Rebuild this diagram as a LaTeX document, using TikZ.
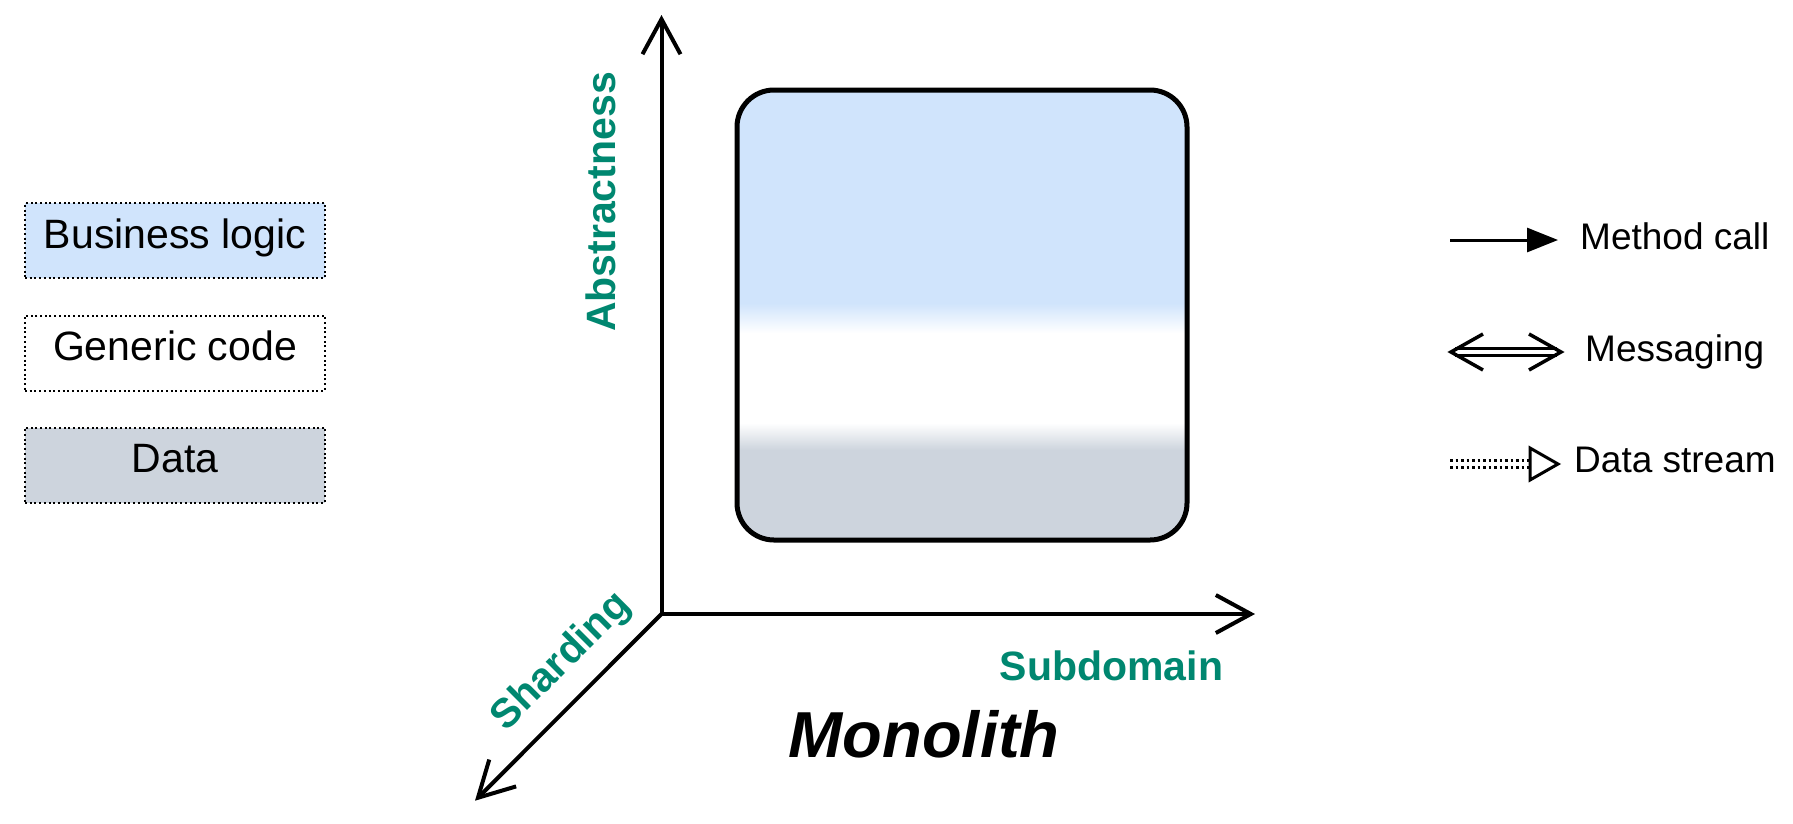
\documentclass[tikz,border=0pt]{standalone}
\usepackage{fontspec}
\setmainfont{Liberation Sans}
\usetikzlibrary{arrows.meta}
\definecolor{bluec}{RGB}{208,228,252}
\definecolor{grayc}{RGB}{205,212,221}
\definecolor{tealc}{RGB}{0,135,112}
\pgfdeclareverticalshading{boxshade}{100bp}{color(0bp)=(grayc); color(35bp)=(grayc); color(38bp)=(white); color(48bp)=(white); color(51.3bp)=(bluec); color(100bp)=(bluec)}
\tikzset{barbtip/.tip={Straight Barb[length=35pt,width=38pt]}}
\begin{document}
\begin{tikzpicture}[x=1pt,y=-1pt,
  legbox/.style={draw, line width=2pt, dash pattern=on 2pt off 2.7pt, minimum width=300pt, minimum height=75pt, inner sep=0pt, text height=30pt, text depth=15pt, font=\fontsize{41}{48}\selectfont},
  legtext/.style={anchor=base west, inner sep=0pt, font=\fontsize{37}{44}\selectfont},
  axlabel/.style={text=tealc, inner sep=0pt, font=\fontsize{41}{48}\selectfont\bfseries},
]
\useasboundingbox (0,0) rectangle (1793,823);

% left legend
\node[legbox, fill=bluec] (bl) at (175,240.5) {Business logic};
\node[legbox, fill=white] (gc) at (175,353) {Generic code};
\node[legbox, fill=grayc] (dt) at (175,465) {Data};

% central box
\node[draw, line width=5pt, rounded corners=37pt, minimum width=450pt, minimum height=450pt, shade, shading=boxshade] (box) at (962,315) {};

% axes
\coordinate (O) at (661.5,614);
\coordinate (ytop) at (661.5,15);
\coordinate (xtip) at (1255,614);
\coordinate (ztip) at (475,800.7);
\draw[line width=4pt, barbtip-barbtip] (ytop) -- (O) -- (xtip);
\draw[line width=4pt, -barbtip] (O) -- (ztip);

\node[axlabel, rotate=90] (abs) at (600.5,202) {Abstractness};
\node[axlabel] (sub) at (1111.5,666) {Subdomain};
\node[axlabel, rotate=45] (shard) at (562,662) {Sharding};
\node[inner sep=0pt, font=\fontsize{65}{72}\selectfont\bfseries\itshape] (mono) at (924,734) {Monolith};

% right legend
\coordinate (mc1) at (1450,240);
\coordinate (mc2) at (1558,240);
\draw[line width=3pt, -{Triangle[length=31pt,width=24pt]}] (mc1) -- (mc2);
\node[legtext] (mct) at (1580,249.3) {Method call};

\coordinate (ms1) at (1451,352);
\coordinate (ms2) at (1561,352);
\draw[line width=3.3pt, double distance=3.5pt, shorten <=4pt, shorten >=4pt] (ms1) -- (ms2);
\draw[line width=3.5pt] (ms1) ++(32,-18) -- (ms1) -- ++(32,18);
\draw[line width=3.5pt] (ms2) ++(-32,-18) -- (ms2) -- ++(-32,18);
\node[legtext] (mst) at (1585,361.7) {Messaging};

\coordinate (ds1) at (1450,464);
\coordinate (ds2) at (1530,464);
\coordinate (dsT) at (1558,464);
\draw[line width=2.5pt, dash pattern=on 2.5pt off 3pt] ([yshift=3.3pt]ds1) -- ([yshift=3.3pt]ds2);
\draw[line width=2.5pt, dash pattern=on 2.5pt off 3pt] ([yshift=-3.3pt]ds1) -- ([yshift=-3.3pt]ds2);
\draw[line width=3pt, fill=white, line join=miter] (ds2) ++(0,-16) -- (dsT) -- ++(-28,16) -- cycle;
\node[legtext] (dst) at (1574,472.7) {Data stream};
\end{tikzpicture}
\end{document}
